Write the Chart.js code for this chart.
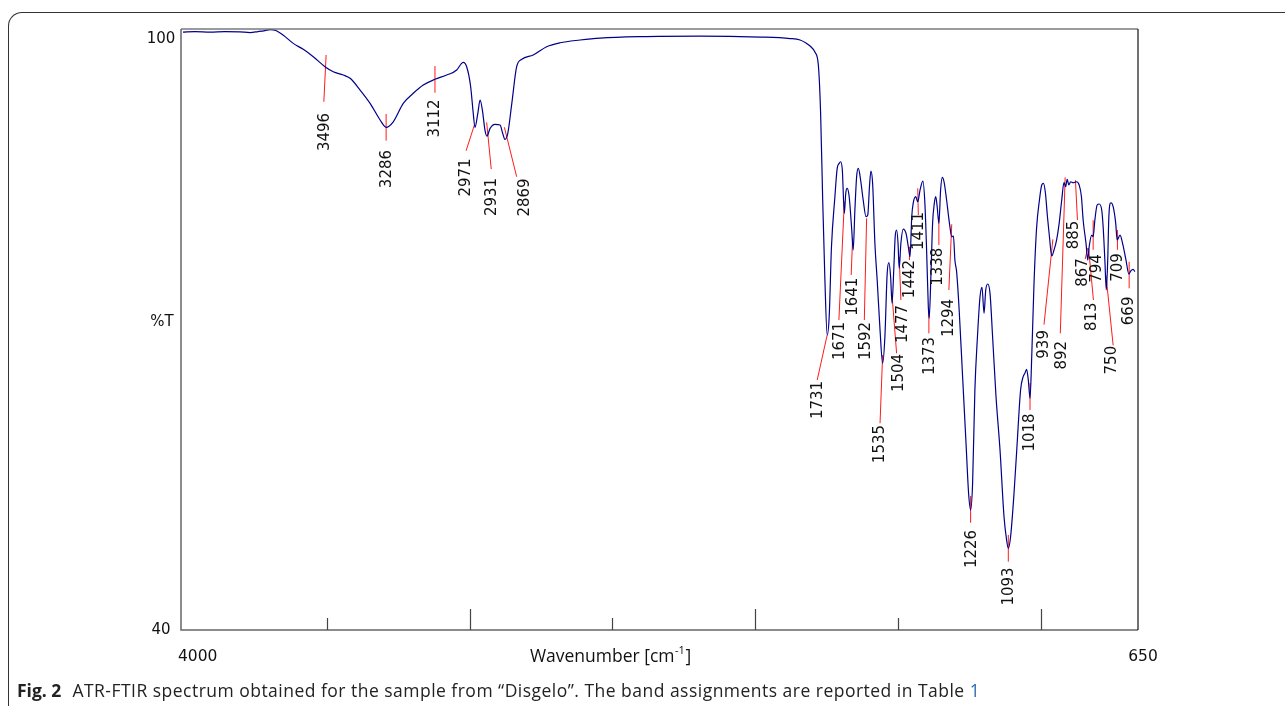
<!DOCTYPE html>
<html>
<head>
<meta charset="utf-8">
<script src="https://cdn.jsdelivr.net/npm/chart.js@4.4.1/dist/chart.umd.min.js"></script>
<style>
  html, body { margin:0; padding:0; background:#fff; width:1285px; height:706px; overflow:hidden; }
  #wrap { position:absolute; left:0; top:0; width:1285px; height:706px; }
  #box { position:absolute; left:8px; top:12px; width:1300px; height:720px; border-top:1px solid #333; border-left:1px solid #333; border-top-left-radius:14px; }
  canvas { position:absolute; left:0; top:0; }
  #caption { position:absolute; left:17px; top:678px; font-family:"Open Sans", sans-serif; font-size:17.5px; letter-spacing:0.48px; color:#222; white-space:nowrap; }
  #caption b { font-weight:700; margin-right:6px; letter-spacing:0; }
  #caption .lnk { color:#2b6cb0; }
</style>
</head>
<body>
<div id="wrap">
  <div id="box"></div>
  <canvas id="c" width="1285" height="706"></canvas>
  <div id="caption"><b>Fig. 2</b> ATR-FTIR spectrum obtained for the sample from “Disgelo”. The band assignments are reported in Table <span class="lnk">1</span></div>
</div>
<script>
// ---- spectrum data (wavenumber cm-1, %T) ----
const wavenumbers = [3993,3951,3898,3846,3794,3758,3730,3706,3688,3668,3643,3607,3572,3537,3496,3467,3432,3408,3373,3338,3303,3282,3257,3222,3187,3152,3111,3070,3035,3020,3012,3000,2986,2977,2971,2961,2953,2945,2936,2929,2918,2901,2883,2874,2866,2856,2842,2825,2807,2767,2720,2673,2603,2533,2393,2183,1973,1868,1833,1812,1798,1781,1769,1761,1754,1746,1738,1731,1723,1711,1703,1696,1691,1685,1678,1673,1668,1661,1652,1647,1641,1635,1629,1621,1612,1602,1596,1590,1585,1579,1571,1563,1553,1544,1536,1528,1522,1516,1511,1505,1500,1495,1490,1486,1480,1472,1462,1454,1448,1442,1437,1428,1421,1413,1403,1396,1390,1384,1381,1375,1369,1363,1358,1353,1347,1341,1335,1329,1320,1310,1302,1296,1291,1285,1276,1264,1252,1243,1236,1229,1221,1212,1203,1196,1189,1183,1176,1168,1159,1147,1133,1119,1110,1104,1096,1084,1073,1061,1052,1046,1040,1034,1028,1022,1014,1005,995,987,981,974,967,960,952,944,935,926,917,909,903,898,892,886,877,865,856,848,842,832,826,821,812,807,801,793,786,777,772,766,761,756,752,745,737,728,723,713,704,692,682,675,667,661];
const transmittance = [100.71,100.76,100.71,100.76,100.73,100.66,100.76,100.86,100.96,100.86,100.41,99.56,98.95,98.20,97.19,96.68,96.35,96.01,94.82,93.47,91.78,91.04,91.60,93.47,94.49,95.33,95.91,96.35,96.85,97.46,97.63,97.19,95.16,92.46,91.04,92.46,93.81,92.79,90.76,90.15,90.93,91.34,91.27,90.43,89.82,90.43,93.47,97.19,97.94,98.38,99.22,99.62,99.90,100.10,100.25,100.30,100.20,100.05,99.90,99.59,99.29,98.68,97.36,92.46,83.99,75.53,69.95,71.81,78.91,83.99,86.87,87.38,87.54,86.70,82.30,84.34,84.84,83.99,80.61,78.58,82.64,86.02,86.87,85.69,83.66,81.96,82.13,85.01,86.60,85.35,79.26,75.53,70.46,67.08,69.78,76.21,77.29,75.87,73.17,76.55,79.93,80.61,79.26,76.72,79.26,80.71,80.27,78.91,77.90,81.96,83.32,83.99,83.48,84.67,85.58,83.32,78.58,72.82,71.65,75.87,81.29,83.32,83.99,82.98,81.29,84.67,85.96,85.51,83.66,81.29,79.93,80.00,77.56,76.38,72.49,65.72,58.96,53.88,52.19,54.90,64.37,69.78,73.84,74.79,72.15,74.52,75.13,74.18,69.78,63.69,58.27,51.50,49.14,48.29,49.47,53.88,58.96,64.37,65.72,66.06,66.47,65.38,63.52,67.75,75.20,80.81,83.66,85.18,85.35,84.34,81.96,79.93,77.97,78.58,79.59,81.29,83.66,85.45,85.01,85.76,85.18,85.51,85.41,85.51,85.18,83.99,81.62,79.26,77.56,78.91,80.10,79.93,81.62,83.15,83.25,82.64,80.94,77.56,74.52,77.56,81.96,83.38,82.98,81.29,79.59,80.10,79.26,77.56,76.14,76.47,76.61,76.38];

// ---- peak annotations ----
const peakText = ['3496','3286','3112','2971','2931','2869','1731','1671','1641','1592','1535','1504','1477','1442','1411','1373','1338','1294','1226','1093','1018','939','892','885','867','813','794','750','709','669'];
const labelWn  = [3496,3279,3111,3003,2911,2796,1769,1693,1647,1602,1553,1487,1473,1448,1417,1379,1350,1311,1232,1102,1028,978,917,875,842,810,792,740,719,680];
const labelT   = [90.56,86.80,91.93,85.94,83.96,83.91,63.35,69.34,73.84,69.34,58.88,66.09,71.07,75.63,80.51,67.82,76.88,71.68,48.22,44.42,60.05,69.0,67.9,80.1,76.3,71.8,76.7,67.4,76.8,72.4];
const leadWn1  = [3492,3282,3111,2973,2930,2868,1738,1678,1649,1600,1544,1512,1486,1450,1421,1382,1347,1302,1236,1104,1028,948,905,869,826,823,807,762,722,681];
const leadT1   = [98.38,92.39,97.26,91.27,91.54,91.04,69.95,83.48,79.77,81.80,67.92,74.35,77.90,78.91,84.84,72.15,81.96,81.19,53.61,49.65,65.05,79.67,85.96,85.67,78.78,78.78,81.6,76.0,80.61,77.39];
const leadWn2  = [3500,3282,3111,3002,2914,2825,1773,1697,1654,1608,1553,1495,1480,1450,1419,1382,1347,1312,1236,1104,1028,979,922,862,835,806,807,737,722,681];
const leadT2   = [93.63,89.68,94.55,88.66,86.80,86.02,65.38,71.47,76.04,71.47,60.99,68.09,73.50,77.56,82.13,70.12,79.09,74.52,50.89,46.94,62.34,71.0,70.12,81.62,77.66,73.5,78.6,68.9,78.6,74.69];

// ---- axes ----
const xMin = 650, xMax = 4000;
const yMin = 40, yMax = 101.12;
const xTickValues = [3490, 2990, 2490, 1990, 1490, 990];
const xTickMajor  = [false, true, false, true, false, true];
const xEndValues  = [4000, 650];
const xEndLabels  = ['4000', '650'];
const yTickValues = [100, 40];
const yTickLabels = ['100', '40'];
const xTitle = 'Wavenumber [cm';
const xTitleSup = '-1';
const yTitle = '%T';

const points = wavenumbers.map((w, i) => ({ x: w, y: transmittance[i] }));

const annot = {
  id: 'annot',
  beforeDatasetsDraw(chart) {
    const ctx = chart.ctx, xs = chart.scales.x, ys = chart.scales.y;
    ctx.save();
    ctx.strokeStyle = '#ff1a1a';
    ctx.lineWidth = 1;
    for (let i = 0; i < peakText.length; i++) {
      ctx.beginPath();
      ctx.moveTo(xs.getPixelForValue(leadWn1[i]), ys.getPixelForValue(leadT1[i]));
      ctx.lineTo(xs.getPixelForValue(leadWn2[i]), ys.getPixelForValue(leadT2[i]));
      ctx.stroke();
    }
    ctx.restore();
  },
  afterDatasetsDraw(chart) {
    const ctx = chart.ctx, xs = chart.scales.x, ys = chart.scales.y, a = chart.chartArea;
    ctx.save();
    // frame
    ctx.lineWidth = 1.5;
    ctx.strokeStyle = '#7a7a7a';
    ctx.beginPath(); ctx.moveTo(a.left, a.top + 1); ctx.lineTo(a.right, a.top + 1); ctx.stroke();
    ctx.strokeStyle = '#666';
    ctx.beginPath(); ctx.moveTo(a.left, a.top + 1); ctx.lineTo(a.left, a.bottom); ctx.lineTo(a.right, a.bottom); ctx.stroke();
    ctx.lineWidth = 1.2;
    ctx.strokeStyle = '#111';
    ctx.beginPath(); ctx.moveTo(a.right, a.top + 1); ctx.lineTo(a.right, a.bottom); ctx.stroke();
    // x ticks (inside)
    ctx.lineWidth = 1.2;
    ctx.strokeStyle = '#444';
    xTickValues.forEach((v, i) => {
      const px = Math.round(xs.getPixelForValue(v)) + 0.5;
      ctx.beginPath(); ctx.moveTo(px, a.bottom); ctx.lineTo(px, a.bottom - (xTickMajor[i] ? 21 : 12)); ctx.stroke();
    });
    // peak labels
    ctx.fillStyle = '#111';
    ctx.font = '15px "DejaVu Sans"';
    ctx.textAlign = 'center';
    ctx.textBaseline = 'middle';
    for (let i = 0; i < peakText.length; i++) {
      ctx.save();
      ctx.translate(xs.getPixelForValue(labelWn[i]), ys.getPixelForValue(labelT[i]));
      ctx.rotate(-Math.PI / 2);
      ctx.fillText(peakText[i], 0, 0);
      ctx.restore();
    }
    // y tick labels & title
    ctx.font = '15px "DejaVu Sans"';
    yTickValues.forEach((v, i) => {
      ctx.fillText(yTickLabels[i], a.left - 20, ys.getPixelForValue(v));
    });
    ctx.fillText(yTitle, a.left - 19, 322);
    // x end labels
    ctx.font = '15.5px "DejaVu Sans"';
    ctx.textAlign = 'left';
    ctx.fillText(xEndLabels[0], xs.getPixelForValue(xEndValues[0]) - 3, a.bottom + 27);
    ctx.textAlign = 'center';
    ctx.fillText(xEndLabels[1], xs.getPixelForValue(xEndValues[1]) + 5, a.bottom + 27);
    // x title with superscript
    const tf = '17.5px "Open Sans"', sf = '11px "Open Sans"';
    ctx.font = tf;
    const w1 = ctx.measureText(xTitle).width;
    ctx.font = sf;
    const w2 = ctx.measureText(xTitleSup).width;
    ctx.font = tf;
    const w3 = ctx.measureText(']').width;
    const cx = a.left + 429;
    let sx = cx - (w1 + w2 + w3) / 2;
    const by = a.bottom + 27;
    ctx.textAlign = 'left';
    ctx.fillText(xTitle, sx, by);
    ctx.font = sf;
    ctx.fillText(xTitleSup, sx + w1 + 0.5, by - 6);
    ctx.font = tf;
    ctx.fillText(']', sx + w1 + w2 + 1, by);
    ctx.restore();
  }
};

new Chart(document.getElementById('c'), {
  type: 'scatter',
  data: {
    datasets: [{
      data: points,
      showLine: true,
      borderColor: '#00008b',
      borderWidth: 1.2,
      pointRadius: 0,
      cubicInterpolationMode: 'monotone',
      fill: false
    }]
  },
  options: {
    responsive: false,
    animation: false,
    events: [],
    layout: { padding: { left: 181, top: 28, right: 147, bottom: 76 } },
    plugins: { legend: { display: false }, tooltip: { enabled: false } },
    scales: {
      x: { type: 'linear', reverse: true, min: xMin, max: xMax, display: false },
      y: { type: 'linear', min: yMin, max: yMax, display: false }
    }
  },
  plugins: [annot]
});
</script>
</body>
</html>
